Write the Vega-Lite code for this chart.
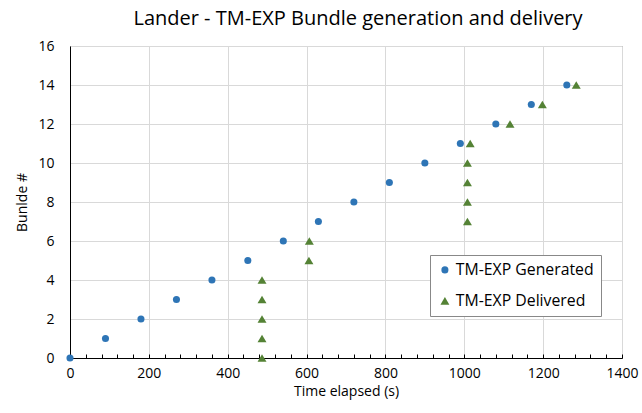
{
  "$schema": "https://vega.github.io/schema/vega-lite/v6.json",
  "width": 552,
  "height": 312,
  "autosize": "none",
  "padding": {"left": 70, "top": 46, "right": 20, "bottom": 55},
  "background": "white",
  "title": {
    "text": "Lander - TM-EXP Bundle generation and delivery",
    "font": "Open Sans",
    "fontSize": 20,
    "fontWeight": "normal",
    "color": "#000000",
    "anchor": "middle",
    "dx": 12,
    "offset": 10
  },
  "data": {
    "values": [
      {"t": 0, "b": 0, "series": "TM-EXP Generated"},
      {"t": 90, "b": 1, "series": "TM-EXP Generated"},
      {"t": 180, "b": 2, "series": "TM-EXP Generated"},
      {"t": 270, "b": 3, "series": "TM-EXP Generated"},
      {"t": 360, "b": 4, "series": "TM-EXP Generated"},
      {"t": 451, "b": 5, "series": "TM-EXP Generated"},
      {"t": 541, "b": 6, "series": "TM-EXP Generated"},
      {"t": 630, "b": 7, "series": "TM-EXP Generated"},
      {"t": 720, "b": 8, "series": "TM-EXP Generated"},
      {"t": 810, "b": 9, "series": "TM-EXP Generated"},
      {"t": 900, "b": 10, "series": "TM-EXP Generated"},
      {"t": 990, "b": 11, "series": "TM-EXP Generated"},
      {"t": 1080, "b": 12, "series": "TM-EXP Generated"},
      {"t": 1170, "b": 13, "series": "TM-EXP Generated"},
      {"t": 1260, "b": 14, "series": "TM-EXP Generated"},
      {"t": 487, "b": 0, "series": "TM-EXP Delivered"},
      {"t": 487, "b": 1, "series": "TM-EXP Delivered"},
      {"t": 487, "b": 2, "series": "TM-EXP Delivered"},
      {"t": 487, "b": 3, "series": "TM-EXP Delivered"},
      {"t": 487, "b": 4, "series": "TM-EXP Delivered"},
      {"t": 606, "b": 5, "series": "TM-EXP Delivered"},
      {"t": 607, "b": 6, "series": "TM-EXP Delivered"},
      {"t": 1008, "b": 7, "series": "TM-EXP Delivered"},
      {"t": 1008, "b": 8, "series": "TM-EXP Delivered"},
      {"t": 1008, "b": 9, "series": "TM-EXP Delivered"},
      {"t": 1008, "b": 10, "series": "TM-EXP Delivered"},
      {"t": 1015, "b": 11, "series": "TM-EXP Delivered"},
      {"t": 1116, "b": 12, "series": "TM-EXP Delivered"},
      {"t": 1198, "b": 13, "series": "TM-EXP Delivered"},
      {"t": 1284, "b": 14, "series": "TM-EXP Delivered"}
    ]
  },
  "mark": {"type": "point", "filled": true, "opacity": 1},
  "encoding": {
    "x": {
      "field": "t",
      "type": "quantitative",
      "scale": {"domain": [0, 1400], "nice": false},
      "axis": {
        "title": "Time elapsed (s)",
        "values": [0,40,80,120,160,200,240,280,320,360,400,440,480,520,560,600,640,680,720,760,800,840,880,920,960,1000,1040,1080,1120,1160,1200,1240,1280,1320,1360,1400],
        "labelExpr": "datum.value % 200 === 0 ? datum.label : ''",
        "format": "d",
        "labelOverlap": false,
        "labelFlush": false,
        "tickSize": -4,
        "tickColor": "#000000",
        "domainColor": "#000000",
        "gridColor": {"condition": {"test": "datum.value % 200 === 0", "value": "#D9D9D9"}, "value": "rgba(0,0,0,0)"},
        "labelPadding": 12,
        "titlePadding": 4
      }
    },
    "y": {
      "field": "b",
      "type": "quantitative",
      "scale": {"domain": [0, 16], "nice": false},
      "axis": {
        "title": "Bunlde #",
        "values": [0,2,4,6,8,10,12,14,16],
        "ticks": false,
        "domainColor": "#000000",
        "gridColor": "#D9D9D9",
        "labelPadding": 16,
        "titlePadding": 8
      }
    },
    "color": {
      "field": "series",
      "type": "nominal",
      "scale": {"domain": ["TM-EXP Generated", "TM-EXP Delivered"], "range": ["#2E75B6", "#548235"]},
      "legend": {
        "title": null,
        "orient": "none",
        "legendX": 360,
        "legendY": 209,
        "labelFontSize": 15.8,
        "labelFont": "Open Sans",
        "labelColor": "#000000",
        "rowPadding": 14,
        "padding": 7,
        "strokeColor": "#888888",
        "fillColor": "#ffffff",
        "symbolSize": 60,
        "labelOffset": 3,
        "labelLimit": 300
      }
    },
    "shape": {
      "field": "series",
      "type": "nominal",
      "scale": {"domain": ["TM-EXP Generated", "TM-EXP Delivered"], "range": ["circle", "triangle-up"]}
    },
    "size": {
      "field": "series",
      "type": "nominal",
      "scale": {"domain": ["TM-EXP Generated", "TM-EXP Delivered"], "range": [50, 80]},
      "legend": null
    }
  },
  "config": {
    "view": {"stroke": "#7F7F7F", "strokeWidth": 1},
    "axis": {
      "labelFont": "Open Sans",
      "labelFontSize": 14,
      "labelColor": "#000000",
      "titleFont": "Open Sans",
      "titleFontSize": 14,
      "titleFontWeight": "normal",
      "titleColor": "#000000",
      "gridWidth": 1
    }
  }
}
